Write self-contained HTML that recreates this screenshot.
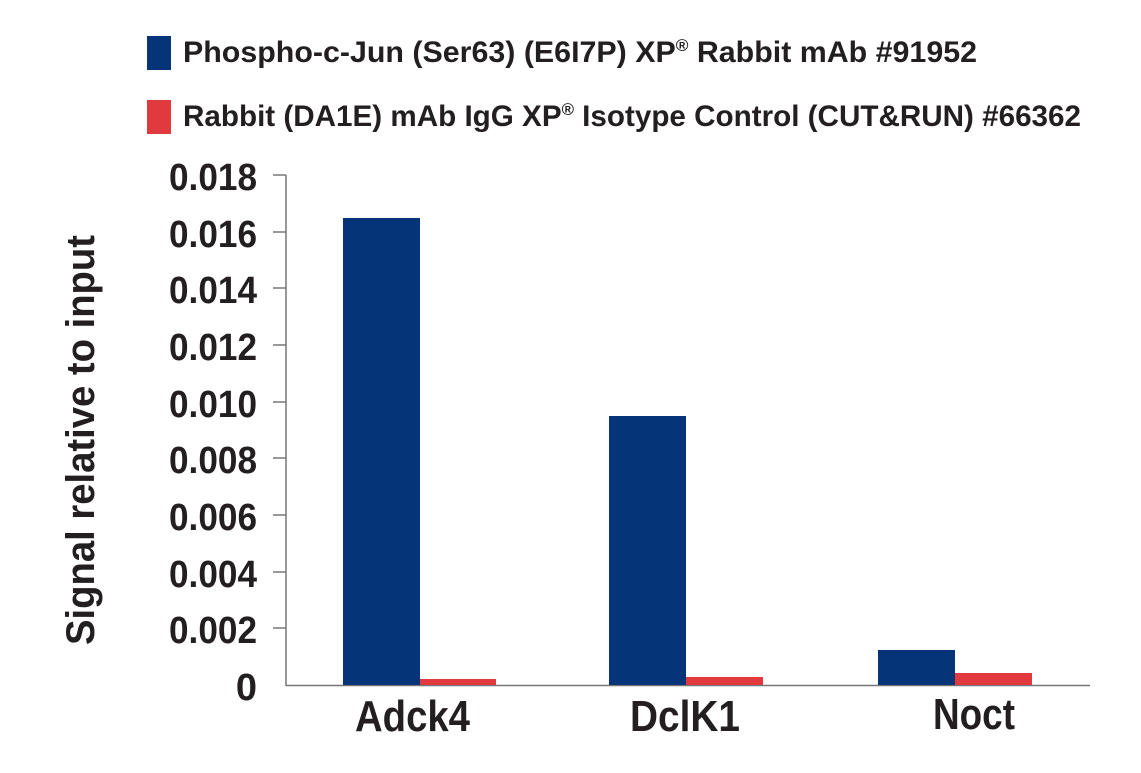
<!DOCTYPE html>
<html><head><style>
body{margin:0;background:#fff;}
svg text{font-family:"Liberation Sans Narrow","Liberation Sans",sans-serif;font-weight:bold;fill:#231f20;}
</style></head><body>
<svg width="1141" height="768" xmlns="http://www.w3.org/2000/svg">
<rect x="147" y="36" width="24" height="34" fill="#063479"/>
<rect x="147" y="100" width="24" height="34" fill="#e03a3e"/>
<text x="183" y="62" font-size="30" textLength="794" lengthAdjust="spacingAndGlyphs">Phospho-c-Jun (Ser63) (E6I7P) XP<tspan font-size="17" dy="-11">®</tspan><tspan dy="11"> Rabbit mAb #91952</tspan></text>
<text x="183" y="126" font-size="30" textLength="898" lengthAdjust="spacingAndGlyphs">Rabbit (DA1E) mAb IgG XP<tspan font-size="17" dy="-11">®</tspan><tspan dy="11"> Isotype Control (CUT&amp;RUN) #66362</tspan></text>
<g stroke="#777" stroke-width="1.5" fill="none">
<line x1="286" y1="175" x2="286" y2="686"/>
<line x1="286" y1="685.5" x2="1090" y2="685.5"/>
<line x1="273" y1="175" x2="286" y2="175"/>
<line x1="273" y1="232" x2="286" y2="232"/>
<line x1="273" y1="288" x2="286" y2="288"/>
<line x1="273" y1="345" x2="286" y2="345"/>
<line x1="273" y1="402" x2="286" y2="402"/>
<line x1="273" y1="458" x2="286" y2="458"/>
<line x1="273" y1="515" x2="286" y2="515"/>
<line x1="273" y1="572" x2="286" y2="572"/>
<line x1="273" y1="628" x2="286" y2="628"/>
</g>
<g font-size="38" text-anchor="end" lengthAdjust="spacingAndGlyphs">
<text x="257" y="190" textLength="88" lengthAdjust="spacingAndGlyphs">0.018</text>
<text x="257" y="247" textLength="88" lengthAdjust="spacingAndGlyphs">0.016</text>
<text x="257" y="303" textLength="88" lengthAdjust="spacingAndGlyphs">0.014</text>
<text x="257" y="360" textLength="88" lengthAdjust="spacingAndGlyphs">0.012</text>
<text x="257" y="417" textLength="88" lengthAdjust="spacingAndGlyphs">0.010</text>
<text x="257" y="473" textLength="88" lengthAdjust="spacingAndGlyphs">0.008</text>
<text x="257" y="530" textLength="88" lengthAdjust="spacingAndGlyphs">0.006</text>
<text x="257" y="587" textLength="88" lengthAdjust="spacingAndGlyphs">0.004</text>
<text x="257" y="643" textLength="88" lengthAdjust="spacingAndGlyphs">0.002</text>
<text x="257" y="700">0</text>
</g>
<rect x="343" y="218" width="77" height="467" fill="#063479"/>
<rect x="420" y="679" width="76" height="6" fill="#e03a3e"/>
<rect x="609" y="416" width="77" height="269" fill="#063479"/>
<rect x="686" y="677" width="77" height="8" fill="#e03a3e"/>
<rect x="878" y="650" width="77" height="35" fill="#063479"/>
<rect x="955" y="673" width="77" height="12" fill="#e03a3e"/>
<g font-size="44">
<text x="355" y="731" textLength="115" lengthAdjust="spacingAndGlyphs">Adck4</text>
<text x="630" y="731" textLength="110" lengthAdjust="spacingAndGlyphs">DclK1</text>
<text x="933" y="729" textLength="82" lengthAdjust="spacingAndGlyphs">Noct</text>
</g>
<text transform="translate(94,440) rotate(-90)" font-size="40" text-anchor="middle" textLength="410" lengthAdjust="spacingAndGlyphs">Signal relative to input</text>
</svg>
</body></html>
